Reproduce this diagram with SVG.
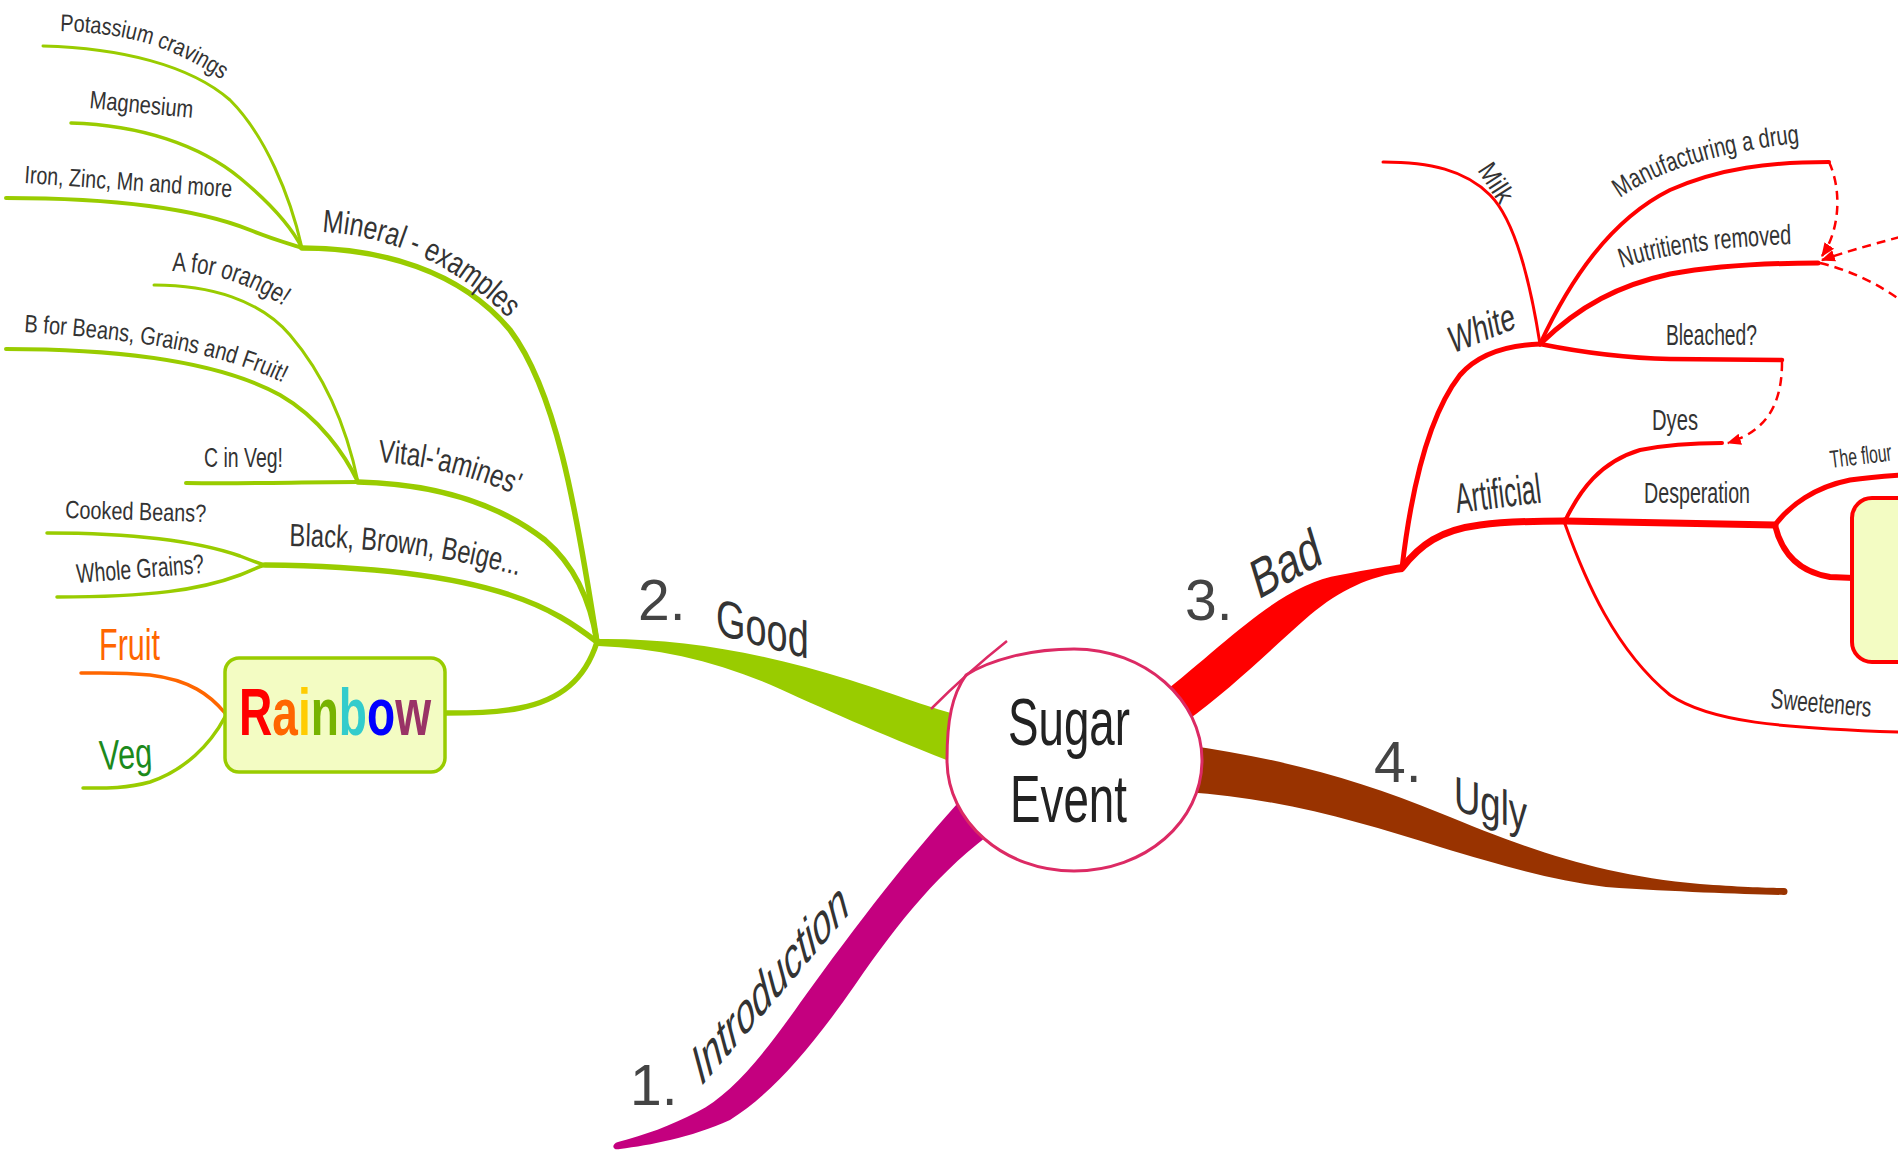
<svg xmlns="http://www.w3.org/2000/svg" width="1898" height="1151" viewBox="0 0 1898 1151">
<style>
text{font-family:"Liberation Sans Narrow","Arial Narrow","Liberation Sans",Arial,sans-serif;fill:#333;}
.num{font-family:"Liberation Sans",Arial,sans-serif;fill:#444;font-size:57px;}
.g{fill:none;stroke:#99cc00;stroke-linecap:round;}
.r{fill:none;stroke:#ff0000;stroke-linecap:round;}
.d{fill:none;stroke:#ff0000;stroke-width:2.5;stroke-dasharray:9 6;}
.box{fill:#f3fcc3;}
</style>
<defs>
<marker id="ah" viewBox="0 0 12 12" refX="11" refY="6" markerWidth="14" markerHeight="14" markerUnits="userSpaceOnUse" orient="auto"><path d="M0,1 L12,6 L0,11 z" fill="#ff0000"/></marker>
<linearGradient id="rainbowFill" gradientUnits="userSpaceOnUse" x1="239" y1="0" x2="431" y2="0">
  <stop offset="0" stop-color="#ff0000"/><stop offset="0.173" stop-color="#ff0000"/>
  <stop offset="0.173" stop-color="#ff6600"/><stop offset="0.307" stop-color="#ff6600"/>
  <stop offset="0.307" stop-color="#ffcc00"/><stop offset="0.374" stop-color="#ffcc00"/>
  <stop offset="0.374" stop-color="#77b300"/><stop offset="0.521" stop-color="#77b300"/>
  <stop offset="0.521" stop-color="#33cccc"/><stop offset="0.667" stop-color="#33cccc"/>
  <stop offset="0.667" stop-color="#0000ff"/><stop offset="0.813" stop-color="#0000ff"/>
  <stop offset="0.813" stop-color="#993366"/><stop offset="1" stop-color="#993366"/>
</linearGradient>
<path id="pPot" d="M60,31 C120,33 168,42 228,84"/>
<path id="pMin" d="M322,232 Q430,238 512,322"/>
<path id="pA" d="M172,271 Q232,272 283,306"/>
<path id="pB" d="M24,332 C120,338 220,350 287,385"/>
<path id="pVit" d="M378,462 Q450,466 518,496"/>
<path id="pBlk" d="M289,546 Q420,548 520,576"/>
<path id="pMan" d="M1620,198 Q1680,155 1808,142"/>
<path id="pNut" d="M1622,268 Q1680,248 1795,244"/>
</defs>
<rect width="1898" height="1151" fill="#fff"/>

<g id="connectors">
  <!-- main branches -->
  <path fill="#99cc00" d="M598,639 C680,638 760,652 850,680 C900,696 930,708 962,716 L962,766 C900,742 830,712 780,689 C720,662 660,648 598,646 Z"/>
  <path fill="#c4007f" d="M968,792 C910,855 860,920 800,1003 C760,1060 730,1095 697,1112 C670,1126 645,1135 618,1142 C611,1144 612,1151 620,1149 C650,1145 690,1138 730,1120 C770,1095 810,1050 855,985 C900,920 940,870 998,828 Z"/>
  <path fill="#ff0000" d="M1158,697 C1230,640 1280,585 1340,575 C1370,569 1390,566 1402,564 L1403,572 C1370,576 1340,590 1310,615 C1270,650 1230,690 1185,722 Z"/>
  <path fill="#993300" d="M1185,745 C1280,758 1360,780 1440,813 C1530,850 1600,875 1700,884 C1740,887 1770,888 1784,888 A3.5,3.5 0 0 1 1784,895 C1740,894 1680,892 1606,887 C1550,880 1500,865 1440,847 C1360,822 1280,798 1185,792 Z"/>

  <!-- Good sub-branches -->
  <path class="g" stroke-width="3" d="M43,46 C120,48 190,65 230,100 C265,135 290,195 302,248"/>
  <path class="g" stroke-width="3.5" d="M71,123 C140,125 200,145 240,178 C270,203 292,228 302,248"/>
  <path class="g" stroke-width="4" d="M6,198 C120,198 200,210 250,230 C275,240 290,244 302,248"/>
  <path class="g" stroke-width="5.5" d="M302,248 C380,248 460,270 510,330 C555,390 575,500 597,642"/>
  <path class="g" stroke-width="3" d="M154,285 C210,285 260,300 290,335 C320,370 345,420 358,482"/>
  <path class="g" stroke-width="4" d="M6,349 C120,349 220,362 280,395 C320,418 345,455 358,482"/>
  <path class="g" stroke-width="4" d="M186,483 C250,484 300,482 358,482"/>
  <path class="g" stroke-width="5.5" d="M358,482 C440,484 500,505 545,540 C580,570 592,610 597,642"/>
  <path class="g" stroke-width="5.5" d="M265,565 C360,566 450,575 510,595 C550,608 575,625 597,642"/>
  <path class="g" stroke-width="3.5" d="M47,533 C140,533 200,542 240,556 C250,560 258,563 265,565"/>
  <path class="g" stroke-width="3.5" d="M57,597 C150,597 200,590 240,575 C250,571 258,567 265,565"/>
  <path class="g" stroke-width="5.5" d="M597,642 C585,680 560,700 520,708 C495,713 470,713 445,713"/>
  <path fill="none" stroke="#ff6600" stroke-width="3.5" stroke-linecap="round" d="M225,713 C210,695 190,680 150,675 C120,672 100,673 81,673"/>
  <path class="g" stroke-width="3.5" d="M225,717 C210,745 185,770 150,782 C125,789 100,788 83,788"/>

  <!-- Bad sub-branches -->
  <path class="r" stroke-width="5" d="M1402,568 C1410,500 1425,420 1460,375 C1480,352 1510,345 1540,344"/>
  <path class="r" stroke-width="3" d="M1540,344 C1530,280 1515,220 1490,195 C1465,170 1430,162 1383,162"/>
  <path class="r" stroke-width="4" d="M1540,344 C1570,280 1610,220 1670,190 C1720,168 1770,162 1829,162"/>
  <path class="r" stroke-width="5" d="M1540,344 C1580,305 1620,285 1670,274 C1720,265 1770,263 1818,263"/>
  <path class="r" stroke-width="4.5" d="M1540,344 C1580,352 1620,358 1670,359 L1782,360"/>
  <path class="r" stroke-width="7" d="M1402,568 C1420,545 1440,530 1480,525 C1510,521 1540,521 1565,521"/>
  <path class="r" stroke-width="4" d="M1565,521 C1580,490 1600,462 1640,450 C1670,444 1700,443 1722,443"/>
  <path class="r" stroke-width="7" d="M1565,521 L1775,525"/>
  <path class="r" stroke-width="3" d="M1565,524 C1585,580 1615,650 1670,695 C1710,722 1780,728 1900,732"/>
  <path class="r" stroke-width="5" d="M1775,525 C1790,505 1815,487 1850,480 C1870,477 1885,476 1900,475"/>
  <path class="r" stroke-width="6" d="M1775,525 C1782,555 1800,572 1830,577 L1854,578"/>

  <!-- dashed relationship arrows -->
  <path class="d" d="M1829,162 C1842,190 1840,230 1822,256" marker-end="url(#ah)"/>
  <path class="d" d="M1900,237 C1870,245 1845,252 1822,260" marker-end="url(#ah)"/>
  <path class="d" d="M1820,263 C1850,270 1880,285 1900,300"/>
  <path class="d" d="M1782,362 C1782,400 1770,430 1728,443" marker-end="url(#ah)"/>
</g>

<g id="n-center">
  <path d="M1074,649 C1145,649 1202,700 1202,760 C1202,822 1145,871 1074,871 C1004,871 947,822 947,760 C947,720 952,695 966,675 C990,660 1030,649 1074,649 Z" fill="#fff" stroke="#dc2a64" stroke-width="3"/>
  <path d="M931,709 Q968,672 1007,641" fill="none" stroke="#dc2a64" stroke-width="2.5"/>
  <text x="1008" y="745" font-size="67" textLength="122" lengthAdjust="spacingAndGlyphs" style="fill:#222">Sugar</text>
  <text x="1010" y="822" font-size="67" textLength="117" lengthAdjust="spacingAndGlyphs" style="fill:#222">Event</text>
</g>

<g id="n-intro">
  <text class="num" x="630" y="1105">1.</text>
  <text font-size="54" textLength="230" lengthAdjust="spacingAndGlyphs" transform="matrix(0.651,-0.759,0.26,0.966,700,1088)">Introduction</text>
</g>
<g id="n-good">
  <text class="num" x="638" y="620">2.</text>
  <text font-size="52" textLength="96" lengthAdjust="spacingAndGlyphs" transform="matrix(0.966,0.259,0,1,716,634)">Good</text>
</g>
<g id="n-bad">
  <text class="num" x="1185" y="620">3.</text>
  <text font-size="54" textLength="76" lengthAdjust="spacingAndGlyphs" transform="matrix(0.871,-0.491,0.29,0.957,1258,600)">Bad</text>
</g>
<g id="n-ugly">
  <text class="num" x="1374" y="782">4.</text>
  <text font-size="49" textLength="76" lengthAdjust="spacingAndGlyphs" transform="matrix(0.961,0.276,0,1,1454,810)">Ugly</text>
</g>

<g id="n-mineral"><text font-size="32"><textPath href="#pMin" textLength="210" lengthAdjust="spacingAndGlyphs">Mineral - examples</textPath></text></g>
<g id="n-potassium"><text font-size="24"><textPath href="#pPot" textLength="172" lengthAdjust="spacingAndGlyphs">Potassium cravings</textPath></text></g>
<g id="n-magnesium"><text font-size="25" textLength="104" lengthAdjust="spacingAndGlyphs" transform="translate(89,108) rotate(5.5)">Magnesium</text></g>
<g id="n-iron"><text font-size="25" textLength="208" lengthAdjust="spacingAndGlyphs" transform="translate(24,183) rotate(3.9)">Iron, Zinc, Mn and more</text></g>
<g id="n-vital"><text font-size="32"><textPath href="#pVit" textLength="142" lengthAdjust="spacingAndGlyphs">Vital-'amines'</textPath></text></g>
<g id="n-afor"><text font-size="27"><textPath href="#pA" textLength="118" lengthAdjust="spacingAndGlyphs">A for orange!</textPath></text></g>
<g id="n-bfor"><text font-size="25"><textPath href="#pB" textLength="265" lengthAdjust="spacingAndGlyphs">B for Beans, Grains and Fruit!</textPath></text></g>
<g id="n-cin"><text x="204" y="467" font-size="27" textLength="79" lengthAdjust="spacingAndGlyphs">C in Veg!</text></g>
<g id="n-black"><text font-size="32"><textPath href="#pBlk" textLength="232" lengthAdjust="spacingAndGlyphs">Black, Brown, Beige...</textPath></text></g>
<g id="n-cooked"><text font-size="25" textLength="141" lengthAdjust="spacingAndGlyphs" transform="translate(65,518) rotate(1.6)">Cooked Beans?</text></g>
<g id="n-whole"><text font-size="27" textLength="128" lengthAdjust="spacingAndGlyphs" transform="translate(77,583) rotate(-4.5)">Whole Grains?</text></g>
<g id="n-rainbow">
  <rect x="225" y="658" width="220" height="114" rx="14" class="box" stroke="#99cc00" stroke-width="3.5"/>
  <text x="239" y="735" font-size="66" font-weight="bold" textLength="192" lengthAdjust="spacingAndGlyphs" style="fill:url(#rainbowFill)">Rainbow</text>
</g>
<g id="n-fruit"><text x="99" y="660" font-size="45" textLength="61" lengthAdjust="spacingAndGlyphs" style="fill:#ff6600">Fruit</text></g>
<g id="n-veg"><text font-size="42" textLength="53" lengthAdjust="spacingAndGlyphs" transform="translate(100,770) rotate(-3)" style="fill:#1c8a1c">Veg</text></g>

<g id="n-white"><text font-size="38" textLength="70" lengthAdjust="spacingAndGlyphs" transform="matrix(0.927,-0.375,0.2,0.98,1452,354)">White</text></g>
<g id="n-milk"><text font-size="27" textLength="42" lengthAdjust="spacingAndGlyphs" transform="translate(1477,170) rotate(57)">Milk</text></g>
<g id="n-manufacturing"><text font-size="27"><textPath href="#pMan" textLength="190" lengthAdjust="spacingAndGlyphs">Manufacturing a drug</textPath></text></g>
<g id="n-nutritients"><text font-size="28"><textPath href="#pNut" textLength="172" lengthAdjust="spacingAndGlyphs">Nutritients removed</textPath></text></g>
<g id="n-bleached"><text x="1666" y="345" font-size="30" textLength="91" lengthAdjust="spacingAndGlyphs">Bleached?</text></g>
<g id="n-artificial"><text font-size="42" textLength="86" lengthAdjust="spacingAndGlyphs" transform="translate(1457,513) rotate(-7)">Artificial</text></g>
<g id="n-dyes"><text x="1652" y="430" font-size="30" textLength="46" lengthAdjust="spacingAndGlyphs">Dyes</text></g>
<g id="n-desperation"><text x="1644" y="503" font-size="30" textLength="106" lengthAdjust="spacingAndGlyphs">Desperation</text></g>
<g id="n-sweeteners"><text font-size="20" textLength="101" lengthAdjust="spacingAndGlyphs" transform="translate(1770,708) rotate(5) scale(1,1.4)">Sweeteners</text></g>
<g id="n-flour"><text font-size="16.5" textLength="62" lengthAdjust="spacingAndGlyphs" transform="translate(1831,468) rotate(-7) scale(1,1.5)">The flour</text></g>
<g id="n-box"><rect x="1852" y="498" width="90" height="164" rx="20" class="box" stroke="#ff0000" stroke-width="4"/></g>
</svg>
